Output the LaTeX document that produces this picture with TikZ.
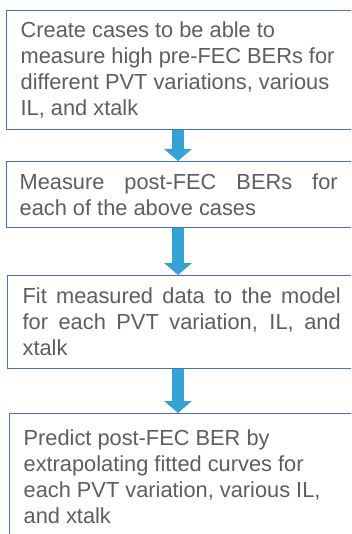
\documentclass[tikz,border=0pt]{standalone}
\usepackage{fontspec}
\setmainfont{Liberation Sans}
\usetikzlibrary{arrows.meta,calc}
\definecolor{boxblue}{HTML}{4472C4}
\definecolor{arrblue}{HTML}{35A2D6}
\definecolor{txtgray}{HTML}{5E5E5E}
\tikzset{
  stepbox/.style={draw=boxblue, line width=1.3bp, rectangle, anchor=north west,
    inner xsep=0pt, inner ysep=0pt, minimum width=354bp,
    text=txtgray, font=\fontsize{21.8bp}{26bp}\selectfont},
  flowarr/.style={draw=arrblue, line width=12bp, line cap=butt,
    -{Triangle[width=27bp,length=12bp]}}
}
\newcommand\jbox[2]{\makebox[354bp][l]{\hspace*{#1bp}\parbox{318bp}{\fontsize{21.8bp}{26bp}\selectfont #2}}}
\newcommand\rbox[2]{\makebox[354bp][l]{\hspace*{#1bp}\parbox{330bp}{\raggedright\fontsize{21.8bp}{26bp}\selectfont #2}}}
\begin{document}
\begin{tikzpicture}[x=1bp,y=-1bp]
\useasboundingbox (0,0) rectangle (351,534);
\clip (0,0) rectangle (351,534);
\fill[white] (0,0) rectangle (351,534);
\node[stepbox, minimum height=119bp] (b1) at (6,10)
  {\rbox{14}{Create cases to be able to\\ measure high pre-FEC BERs for\\ different PVT variations, various\\ IL, and xtalk}};
\node[stepbox, minimum height=66bp] (b2) at (6,161)
  {\jbox{13}{Measure post-FEC BERs for\linebreak each of the above cases}};
\node[stepbox, minimum height=93bp] (b3) at (7,275)
  {\jbox{15}{Fit measured data to the model\linebreak for each PVT variation, IL, and\linebreak xtalk}};
\node[stepbox, minimum height=126bp] (b4) at (9,413)
  {\rbox{14}{Predict post-FEC BER by\\ extrapolating fitted curves for\\ each PVT variation, various IL,\\ and xtalk}};
\draw[flowarr] ([xshift=172bp]b1.south west) -- ([xshift=172bp]b1.south west |- b2.north);
\draw[flowarr] ([xshift=172bp]b2.south west) -- ([xshift=172bp]b2.south west |- b3.north);
\draw[flowarr] ([xshift=171bp]b3.south west) -- ([xshift=171bp]b3.south west |- b4.north);
\end{tikzpicture}
\end{document}
